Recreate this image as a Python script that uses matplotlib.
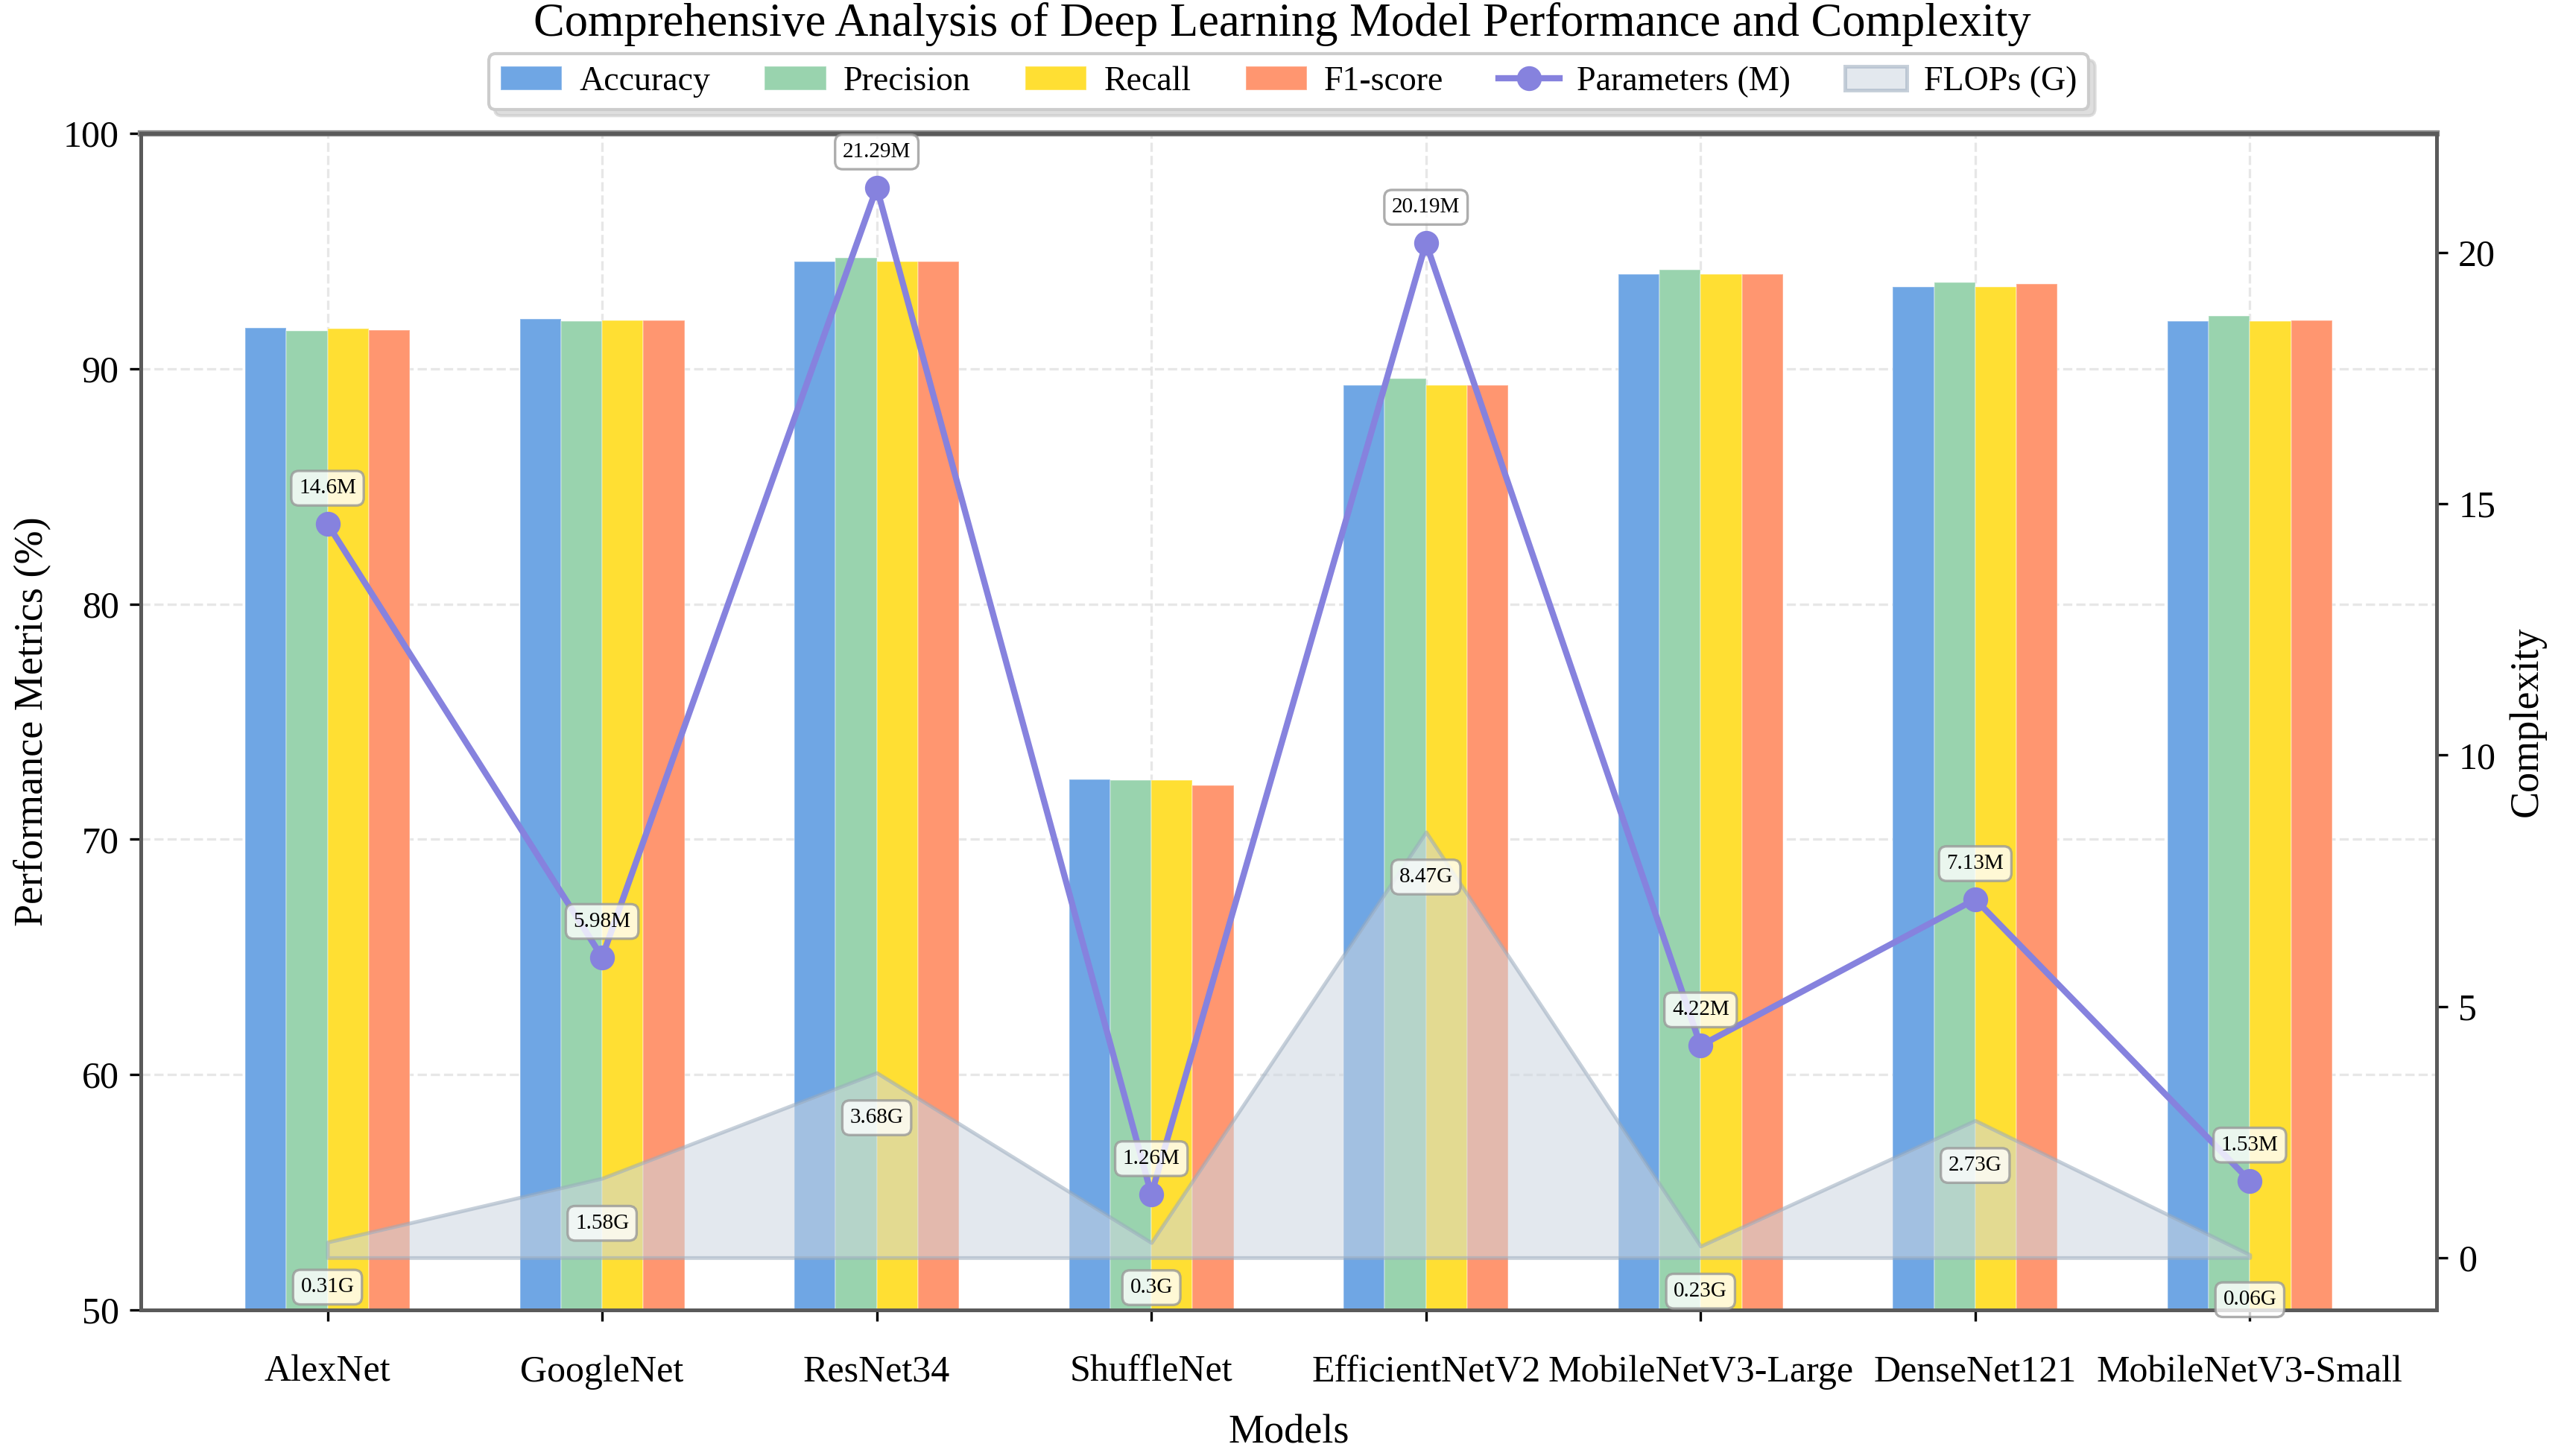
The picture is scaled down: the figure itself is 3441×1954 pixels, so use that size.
import numpy as np
import matplotlib.pyplot as plt

plt.rcParams['font.family'] = ['Liberation Serif', 'DejaVu Serif']

# data
models = ['AlexNet', 'GoogleNet', 'ResNet34', 'ShuffleNet', 'EfficientNetV2',
          'MobileNetV3-Large', 'DenseNet121', 'MobileNetV3-Small']
accuracy = [91.72, 92.13, 94.55, 72.56, 89.30, 94.00, 93.49, 92.01]
precision = [91.60, 92.02, 94.71, 72.50, 89.57, 94.21, 93.67, 92.23]
recall = [91.70, 92.04, 94.55, 72.53, 89.30, 94.00, 93.49, 92.01]
f1_score = [91.65, 92.04, 94.55, 72.30, 89.30, 94.00, 93.60, 92.04]
params_m = [14.6, 5.98, 21.29, 1.26, 20.19, 4.22, 7.13, 1.53]
flops_g = [0.31, 1.58, 3.68, 0.3, 8.47, 0.23, 2.73, 0.06]

metrics = [('Accuracy', accuracy, '#6fa6e4'),
           ('Precision', precision, '#99d3ae'),
           ('Recall', recall, '#ffdf33'),
           ('F1-score', f1_score, '#ff9670')]

fig = plt.figure(figsize=(3441/300, 1954/300), dpi=300)
ax = fig.add_axes([0.0549, 0.1003, 0.8954, 0.8081])
ax2 = ax.twinx()

x = np.arange(len(models))
w = 0.15
for i, (name, vals, col) in enumerate(metrics):
    ax.bar(x + (i - 1.5)*w, vals, w, color=col, label=name,
           edgecolor='#ffffff50', lw=0.4, zorder=2)

ax.set_ylim(50, 100)
ax.set_yticks([50, 60, 70, 80, 90, 100])
ax.set_xticks(x)
ax.set_xticklabels(models, fontsize=12)
ax.tick_params(axis='x', pad=11)
ax.tick_params(axis='y', labelsize=12)
ax.set_xlabel('Models', fontsize=13, labelpad=8)
ax.set_ylabel('Performance Metrics (%)', fontsize=13)
ax.grid(True, linestyle='--', color='#d8d8d8', alpha=0.6, lw=0.8, zorder=0)
ax.set_axisbelow(True)

# complexity on the right axis
fl = ax2.fill_between(x, flops_g, 0, color='#cdd6e0', alpha=0.55,
                      edgecolor='#9aabbd', lw=1.2, label='FLOPs (G)', zorder=2)
ln, = ax2.plot(x, params_m, '-o', color='#8682de', lw=2, ms=7,
               label='Parameters (M)', zorder=3)
ax2.set_ylim(-1.04, 22.37)
ax2.set_yticks([0, 5, 10, 15, 20])
ax2.tick_params(axis='y', labelsize=12)
ax2.set_ylabel('Complexity', fontsize=13)

box = dict(boxstyle='round,pad=0.35', fc='white', ec='#999999', alpha=0.8, lw=0.8)
for xi, p in zip(x, params_m):
    ax2.annotate(f'{p}M', (xi, p), xytext=(0, 11.5), textcoords='offset points',
                 ha='center', va='center', fontsize=7, bbox=box, zorder=5)
for xi, f in zip(x, flops_g):
    ax2.annotate(f'{f}G', (xi, f), xytext=(0, -14.5), textcoords='offset points',
                 ha='center', va='center', fontsize=7, bbox=box, zorder=5)

for a in (ax, ax2):
    for s in a.spines.values():
        s.set_color('#5a5a5a')
        s.set_linewidth(1.2)
ax.spines['top'].set_color('#888888')
ax.spines['top'].set_linewidth(2)

h1, l1 = ax.get_legend_handles_labels()
leg = ax.legend(h1 + [ln, fl], l1 + ['Parameters (M)', 'FLOPs (G)'],
                loc='lower center', bbox_to_anchor=(0.5, 1.0203), ncol=6,
                fontsize=11, frameon=True, fancybox=True, borderaxespad=0,
                shadow={'color': '#c8c8c8', 'alpha': 0.6},
                columnspacing=1.6, handletextpad=0.5, handlelength=1.8,
                borderpad=0.35)

fig.suptitle('Comprehensive Analysis of Deep Learning Model Performance and Complexity',
             fontsize=15, y=1 - 33/1954, va='center')

fig.savefig('out.png', dpi=300)
